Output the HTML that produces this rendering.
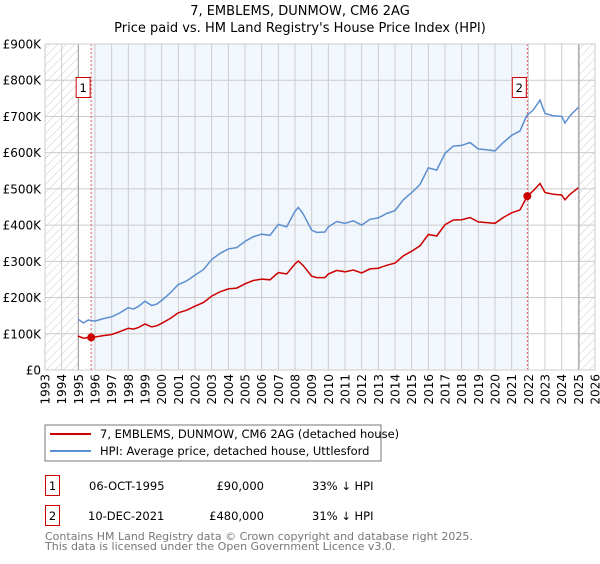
<!DOCTYPE html>
<html><head><meta charset="utf-8"><style>
body{margin:0;background:#fff;width:600px;height:560px;overflow:hidden;font-family:"DejaVu Sans","Liberation Sans",sans-serif}
svg text{font-family:"DejaVu Sans","Liberation Sans",sans-serif}
</style></head><body>
<svg id="chart" width="600" height="560">
<defs><pattern id="hatch" width="6" height="6" patternUnits="userSpaceOnUse" patternTransform="rotate(45)"><line x1="0" y1="0" x2="0" y2="6" stroke="#ccc" stroke-width="1"/></pattern></defs>
<text x="300" y="15" text-anchor="middle" font-size="13">7, EMBLEMS, DUNMOW, CM6 2AG</text>
<text x="300" y="32" text-anchor="middle" font-size="13">Price paid vs. HM Land Registry's House Price Index (HPI)</text>
<g id="plot"></g>
<rect x="45" y="425" width="336" height="36" fill="#fff" stroke="#777"/>
<line x1="50" y1="434" x2="91" y2="434" stroke="#cc0000" stroke-width="2"/>
<text x="100" y="438" font-size="11.5">7, EMBLEMS, DUNMOW, CM6 2AG (detached house)</text>
<line x1="50" y1="451" x2="91" y2="451" stroke="#5b8fd0" stroke-width="2"/>
<text x="100" y="455" font-size="11.5">HPI: Average price, detached house, Uttlesford</text>
<g>
<rect x="45.5" y="475.5" width="14" height="20" fill="none" stroke="#c00"/><text x="52.5" y="490" text-anchor="middle" font-size="11.5">1</text>
<text x="89" y="490" font-size="11.5">06-OCT-1995</text><text x="264" y="490" text-anchor="end" font-size="11.5">£90,000</text><text x="312" y="490" font-size="11.5">33% ↓ HPI</text></g>
<g>
<rect x="45.5" y="505.5" width="14" height="20" fill="none" stroke="#c00"/><text x="52.5" y="520" text-anchor="middle" font-size="11.5">2</text>
<text x="88" y="520" font-size="11.5">10-DEC-2021</text><text x="264" y="520" text-anchor="end" font-size="11.5">£480,000</text><text x="312" y="520" font-size="11.5">31% ↓ HPI</text></g>
<text x="45" y="540" font-size="11" fill="#777">Contains HM Land Registry data © Crown copyright and database right 2025.</text>
<text x="45" y="550" font-size="11" fill="#777">This data is licensed under the Open Government Licence v3.0.</text>
</svg>
<script>
const hpiYears=[1995.0,1995.3,1995.6,1996.0,1996.5,1997.0,1997.5,1998.0,1998.3,1998.6,1999.0,1999.4,1999.7,2000.0,2000.5,2001.0,2001.5,2002.0,2002.5,2003.0,2003.5,2004.0,2004.5,2005.0,2005.5,2006.0,2006.5,2007.0,2007.5,2008.0,2008.2,2008.5,2009.0,2009.3,2009.8,2010.0,2010.5,2011.0,2011.5,2012.0,2012.5,2013.0,2013.5,2014.0,2014.5,2015.0,2015.5,2016.0,2016.5,2017.0,2017.5,2018.0,2018.5,2019.0,2019.5,2020.0,2020.5,2021.0,2021.5,2021.9,2022.3,2022.7,2023.0,2023.5,2024.0,2024.2,2024.5,2025.0];
const hpiValues=[140,130,138,135,142,147,158,172,168,175,190,178,182,192,212,236,246,262,277,305,322,334,338,355,368,375,372,402,395,438,449,430,386,380,381,395,410,405,412,400,416,420,432,440,470,490,512,558,552,598,618,620,628,610,608,605,628,648,660,702,718,745,708,702,700,682,702,725];
const priceYears=[1994.97,1995.3,1995.77,1996.0,1996.5,1997.0,1997.5,1998.0,1998.3,1998.6,1999.0,1999.4,1999.7,2000.0,2000.5,2001.0,2001.5,2002.0,2002.5,2003.0,2003.5,2004.0,2004.5,2005.0,2005.5,2006.0,2006.5,2007.0,2007.5,2008.0,2008.2,2008.5,2009.0,2009.3,2009.8,2010.0,2010.5,2011.0,2011.5,2012.0,2012.5,2013.0,2013.5,2014.0,2014.5,2015.0,2015.5,2016.0,2016.5,2017.0,2017.5,2018.0,2018.5,2019.0,2019.5,2020.0,2020.5,2021.0,2021.5,2021.94,2022.3,2022.7,2023.0,2023.5,2024.0,2024.2,2024.5,2025.0];
const priceValues=[94,88,90,91,95,98,106,115,113,117,127,119,122,129,142,158,165,176,186,204,216,224,226,238,247,251,249,269,265,293,301,288,259,255,255,265,275,271,276,268,279,281,289,295,315,328,343,374,370,401,414,415,421,409,407,405,421,434,442,480,495,515,490,485,483,470,485,503];
const saleYears=[1995.77,2021.94];
const saleValues=[90,480];
const saleLabels=["1","2"];
const yTicks=[0,100,200,300,400,500,600,700,800,900];
const yTickLabels=["£0","£100K","£200K","£300K","£400K","£500K","£600K","£700K","£800K","£900K"];
const xMin=1993,xMax=2026,L=45,R=595,T=44,B=370;
const X=y=>L+(y-xMin)/(xMax-xMin)*(R-L);
const Y=v=>B-v/900*(B-T);
const NS="http://www.w3.org/2000/svg";
const g=document.getElementById('plot');
function mk(t,a,p){const e=document.createElementNS(NS,t);for(const k in a)e.setAttribute(k,a[k]);(p||g).appendChild(e);return e;}
let e;
e=mk('rect',{x:L,y:T,width:R-L,height:B-T,fill:'#fff'});
e=mk('rect',{x:X(saleYears[0]),y:T,width:X(saleYears[1])-X(saleYears[0]),height:B-T,fill:'#f2f6fd'});


e=mk('rect',{x:L,y:T,width:X(1995)-L,height:B-T,fill:'url(#hatch)'});


e=mk('rect',{x:X(2025.04),y:T,width:R-X(2025.04),height:B-T,fill:'url(#hatch)'});


for(let yr=xMin;yr<=xMax;yr++){
 e=mk('line',{x1:X(yr),x2:X(yr),y1:T,y2:B,stroke:'#ccc','stroke-width':1});
 
 
 const t=mk('text',{x:0,y:0,'font-size':12,'text-anchor':'end',transform:`translate(${X(yr)+4.5},${B+4}) rotate(-90)`});
 t.textContent=yr;
 
 
}
yTicks.forEach((v,i)=>{
 e=mk('line',{x1:L,x2:R,y1:Y(v),y2:Y(v),stroke:'#ccc','stroke-width':1});
 
 
 const t=mk('text',{x:L-4,y:Y(v)+4.5,'font-size':12,'text-anchor':'end'});
 t.textContent=yTickLabels[i];
 
 
});
e=mk('line',{x1:X(1995),x2:X(1995),y1:T,y2:B,stroke:'#999','stroke-width':1});
e=mk('line',{x1:X(2025.04),x2:X(2025.04),y1:T,y2:B,stroke:'#999','stroke-width':1});
saleYears.forEach(s=>{
 e=mk('line',{x1:X(s),x2:X(s),y1:T,y2:B,stroke:'#e06060','stroke-width':1,'stroke-dasharray':'2,2'});
 
 
});
const pts=(xs,vs)=>xs.map((x,i)=>X(x).toFixed(1)+','+Y(vs[i]).toFixed(1)).join(' ');
e=mk('polyline',{points:pts(hpiYears,hpiValues),fill:'none',stroke:'#5b8fd0','stroke-width':1.5});


e=mk('polyline',{points:pts(priceYears,priceValues),fill:'none',stroke:'#cc0000','stroke-width':1.5});


saleYears.forEach((s,i)=>{
 e=mk('circle',{cx:X(s),cy:Y(saleValues[i]),r:4,fill:'#cc0000'});
 
 
 const bx=X(s)-15;
 e=mk('rect',{x:bx,y:77.5,width:14,height:20,fill:'#fff',stroke:'#c00'});
 
 
 const t=mk('text',{x:bx+7,y:92,'font-size':11.5,'text-anchor':'middle'});
 t.textContent=saleLabels[i];
 
 
});
e=mk('rect',{x:L,y:T,width:R-L,height:B-T,fill:'none',stroke:'#ccc'});
</script>
</body></html>
